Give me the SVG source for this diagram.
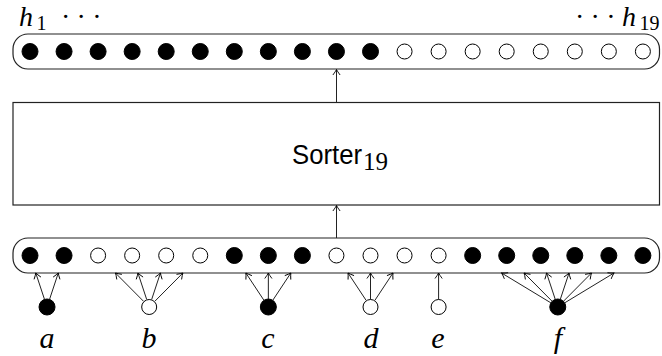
<svg xmlns="http://www.w3.org/2000/svg" width="662" height="356" viewBox="0 0 662 356">
  <style>
    .row { fill: #fff; stroke: #222; stroke-width: 1.2; }
    .box { fill: #fff; stroke: #222; stroke-width: 1.2; }
    .on { fill: #000; stroke: #000; stroke-width: 1; }
    .off { fill: #fff; stroke: #000; stroke-width: 1; }
    .edge { fill: none; stroke: #222; stroke-width: 1; marker-end: url(#tip); }
    .math { font-family: "Liberation Serif", "DejaVu Serif", serif; font-style: italic; font-size: 30px; fill: #000; }
    .hvar { font-size: 28px; }
    .sub { font-family: "Liberation Serif", "DejaVu Serif", serif; font-size: 20px; fill: #000; }
    .dots { font-family: "Liberation Serif", "DejaVu Serif", serif; font-size: 28px; letter-spacing: 6.3px; fill: #000; }
    .label { font-family: "Liberation Sans", "DejaVu Sans", sans-serif; font-size: 27px; fill: #000; }
  </style>
  <defs>
    <marker id="tip" markerUnits="userSpaceOnUse" orient="auto" markerWidth="10" markerHeight="10" refX="0" refY="0" viewBox="-6 -5 8 10" overflow="visible">
      <path d="M-5.5,-3.6 Q-2,-1 0,0 Q-2,1 -5.5,3.6" fill="none" stroke="#000" stroke-width="0.9"/>
    </marker>
    <circle id="dotOn" r="8" class="on"/>
    <circle id="dotOff" r="7.5" class="off"/>
  </defs>

  <!-- output row h1 ... h19 -->
  <g id="outputs">
    <rect class="row" x="13" y="34" width="646.5" height="35" rx="15" ry="15"/>
    <g transform="translate(0,51.5)">
      <use href="#dotOn" x="30"/>
      <use href="#dotOn" x="64.05"/>
      <use href="#dotOn" x="98.1"/>
      <use href="#dotOn" x="132.15"/>
      <use href="#dotOn" x="166.2"/>
      <use href="#dotOn" x="200.25"/>
      <use href="#dotOn" x="234.3"/>
      <use href="#dotOn" x="268.35"/>
      <use href="#dotOn" x="302.4"/>
      <use href="#dotOn" x="336.45"/>
      <use href="#dotOn" x="370.5"/>
      <use href="#dotOff" x="404.55"/>
      <use href="#dotOff" x="438.6"/>
      <use href="#dotOff" x="472.65"/>
      <use href="#dotOff" x="506.7"/>
      <use href="#dotOff" x="540.75"/>
      <use href="#dotOff" x="574.8"/>
      <use href="#dotOff" x="608.85"/>
      <use href="#dotOff" x="642.9"/>
    </g>
    <text class="math hvar" x="19" y="25.5">h</text>
    <text class="sub" x="36.5" y="29.5">1</text>
    <text class="dots" x="61" y="25.5">···</text>
    <text class="dots" x="575" y="25.5">···</text>
    <text class="math hvar" x="622" y="25.5">h</text>
    <text class="sub" x="639.5" y="29.5">19</text>
  </g>

  <!-- sorting network -->
  <g id="sorter">
    <rect class="box" x="13" y="102.5" width="646.5" height="102.5"/>
    <text class="label" x="292" y="163.5" textLength="70" lengthAdjust="spacingAndGlyphs">Sorter</text>
    <text class="sub" x="363" y="170" style="font-size:25px">19</text>
  </g>

  <!-- input row -->
  <g id="inputs">
    <rect class="row" x="13" y="238" width="646.5" height="35" rx="15" ry="15"/>
    <g transform="translate(0,255.5)">
      <use href="#dotOn" x="30"/>
      <use href="#dotOn" x="64.05"/>
      <use href="#dotOff" x="98.1"/>
      <use href="#dotOff" x="132.15"/>
      <use href="#dotOff" x="166.2"/>
      <use href="#dotOff" x="200.25"/>
      <use href="#dotOn" x="234.3"/>
      <use href="#dotOn" x="268.35"/>
      <use href="#dotOn" x="302.4"/>
      <use href="#dotOff" x="336.45"/>
      <use href="#dotOff" x="370.5"/>
      <use href="#dotOff" x="404.55"/>
      <use href="#dotOff" x="438.6"/>
      <use href="#dotOn" x="472.65"/>
      <use href="#dotOn" x="506.7"/>
      <use href="#dotOn" x="540.75"/>
      <use href="#dotOn" x="574.8"/>
      <use href="#dotOn" x="608.85"/>
      <use href="#dotOn" x="642.9"/>
    </g>
  </g>

  <!-- source variables -->
  <g id="var-a"><use href="#dotOn" x="47.03" y="307"/><text class="math" x="47" y="348" text-anchor="middle">a</text></g>
  <g id="var-b"><use href="#dotOff" x="149.18" y="307"/><text class="math" x="149" y="348" text-anchor="middle">b</text></g>
  <g id="var-c"><use href="#dotOn" x="268.35" y="307"/><text class="math" x="268" y="348" text-anchor="middle">c</text></g>
  <g id="var-d"><use href="#dotOff" x="370.5" y="307"/><text class="math" x="371" y="348" text-anchor="middle">d</text></g>
  <g id="var-e"><use href="#dotOff" x="438.6" y="307"/><text class="math" x="438" y="348" text-anchor="middle">e</text></g>
  <g id="var-f"><use href="#dotOn" x="557.78" y="307"/><text class="math" x="558" y="348" text-anchor="middle">f</text></g>

  <!-- connectors -->
  <g id="connectors">
    <line class="edge" x1="336.5" y1="238" x2="336.5" y2="205.5"/>
    <line class="edge" x1="336.5" y1="102.5" x2="336.5" y2="69.5"/>

    <line class="edge" x1="44.51" y1="299.4" x2="35.78" y2="273"/>
    <line class="edge" x1="49.54" y1="299.4" x2="58.27" y2="273"/>

    <line class="edge" x1="143.55" y1="301.3" x2="115.46" y2="273"/>
    <line class="edge" x1="146.67" y1="299.4" x2="137.94" y2="273"/>
    <line class="edge" x1="151.69" y1="299.4" x2="160.42" y2="273"/>
    <line class="edge" x1="154.8" y1="301.3" x2="182.9" y2="273"/>

    <line class="edge" x1="263.94" y1="300.3" x2="245.87" y2="273"/>
    <line class="edge" x1="268.35" y1="299" x2="268.35" y2="273"/>
    <line class="edge" x1="272.76" y1="300.3" x2="290.83" y2="273"/>

    <line class="edge" x1="366.09" y1="300.3" x2="348.02" y2="273"/>
    <line class="edge" x1="370.5" y1="299.5" x2="370.5" y2="273"/>
    <line class="edge" x1="374.91" y1="300.3" x2="392.98" y2="273"/>

    <line class="edge" x1="438.6" y1="299.5" x2="438.6" y2="273"/>

    <line class="edge" x1="550.94" y1="302.9" x2="501.58" y2="273"/>
    <line class="edge" x1="552.15" y1="301.3" x2="524.06" y2="273"/>
    <line class="edge" x1="555.27" y1="299.4" x2="546.54" y2="273"/>
    <line class="edge" x1="560.29" y1="299.4" x2="569.02" y2="273"/>
    <line class="edge" x1="563.41" y1="301.3" x2="591.5" y2="273"/>
    <line class="edge" x1="564.62" y1="302.9" x2="613.98" y2="273"/>
  </g>
</svg>
